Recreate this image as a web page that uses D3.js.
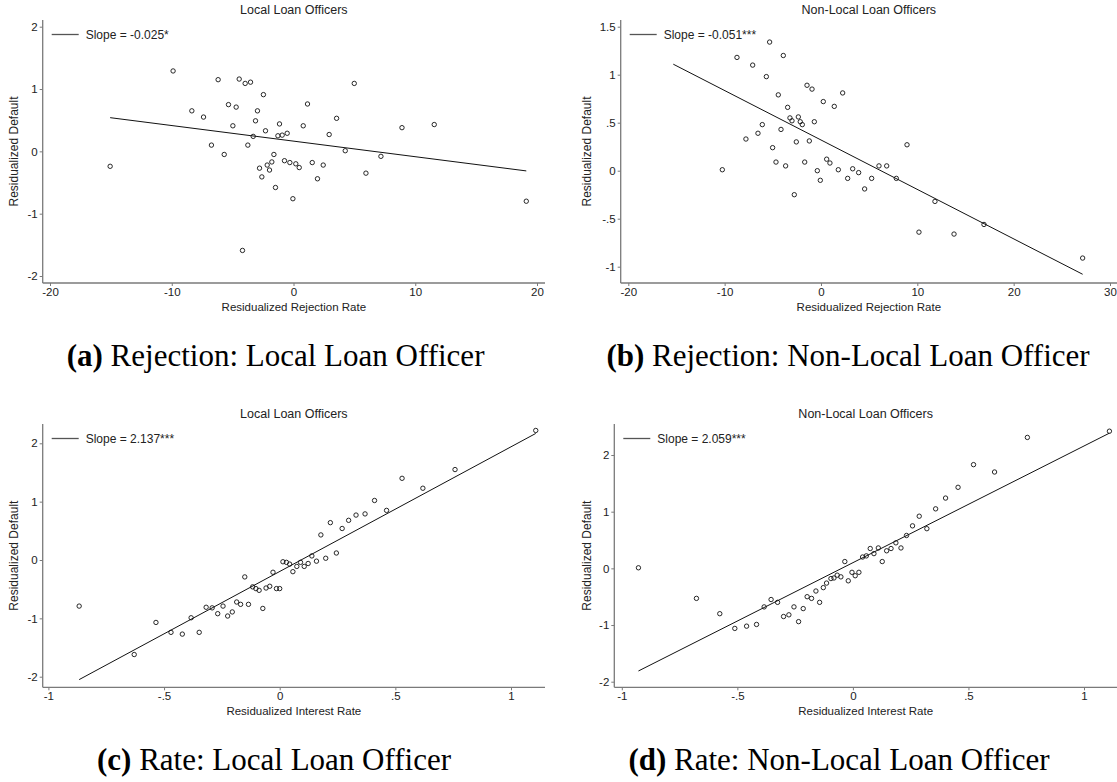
<!DOCTYPE html>
<html>
<head>
<meta charset="utf-8">
<script src="https://cdn.jsdelivr.net/npm/d3@7"></script>
<style>
  body { margin: 0; background: #fff; }
</style>
</head>
<body>
<div id="chart"></div>
<script>
// binned scatter values
const rejLocalX = [-15.06,-9.89,-8.35,-7.39,-6.74,-6.19,-5.69,-5.34,-4.98,-4.71,-4.46,-3.97,-3.53,-4.19,-3.75,-3.31,-3.12,-2.96,-2.47,-2.30,-2.79,-2.60,-2.16,-1.97,-1.78,-1.61,-1.48,-1.28,-1.15,-0.93,-0.52,-0.74,-0.30,0.19,0.47,-0.05,0.80,1.15,1.54,1.97,2.44,2.93,3.54,4.25,4.99,5.95,7.18,8.91,11.56,19.12];
const rejLocalY = [-0.24,1.29,0.65,0.55,0.10,1.15,-0.05,0.75,0.41,0.71,1.16,1.09,1.11,-1.59,0.10,0.24,0.49,0.65,0.91,0.33,-0.27,-0.41,-0.22,-0.30,-0.17,-0.05,-0.58,0.25,0.44,0.26,0.29,-0.15,-0.18,-0.20,-0.26,-0.76,0.41,0.76,-0.18,-0.44,-0.22,0.27,0.53,0.01,1.09,-0.35,-0.08,0.38,0.43,-0.80];

const rejNonLocalX = [-10.24,-8.72,-7.79,-7.09,-6.54,-6.09,-5.67,-5.33,-5.02,-4.67,-4.43,-4.15,-3.91,-3.67,-3.46,-3.22,-3.01,-2.77,-2.56,-2.35,-2.15,-1.94,-1.69,-1.45,-1.21,-0.93,-0.69,-0.38,-0.07,0.24,0.59,0.93,1.38,1.80,2.25,2.77,3.29,3.91,4.53,5.26,6.02,6.82,7.82,8.93,10.17,11.83,13.81,16.92,27.16];
const rejNonLocalY = [0.01,1.18,0.33,1.10,0.39,0.48,0.98,1.34,0.24,0.09,0.79,0.43,1.20,0.05,0.66,0.55,0.52,-0.25,0.30,0.56,0.51,0.48,0.09,0.89,0.31,0.85,0.51,0.00,-0.10,0.72,0.12,0.08,0.67,0.01,0.81,-0.08,0.02,-0.02,-0.19,-0.08,0.05,0.05,-0.08,0.27,-0.64,-0.32,-0.66,-0.56,-0.91];

const rateLocalX = [-0.867,-0.629,-0.535,-0.470,-0.421,-0.383,-0.348,-0.318,-0.292,-0.268,-0.245,-0.225,-0.205,-0.186,-0.169,-0.151,-0.135,-0.117,-0.103,-0.089,-0.073,-0.059,-0.043,-0.029,-0.014,0.000,0.014,0.029,0.043,0.057,0.074,0.090,0.106,0.123,0.139,0.159,0.178,0.199,0.219,0.245,0.270,0.298,0.330,0.369,0.410,0.462,0.529,0.619,0.758,1.107];
const rateLocalY = [-0.79,-1.62,-1.07,-1.24,-1.27,-0.99,-1.24,-0.81,-0.82,-0.92,-0.79,-0.96,-0.89,-0.72,-0.76,-0.29,-0.76,-0.46,-0.49,-0.52,-0.83,-0.48,-0.45,-0.21,-0.49,-0.49,-0.03,-0.04,-0.07,-0.20,-0.11,-0.04,-0.11,-0.06,0.07,-0.02,0.43,0.03,0.64,0.12,0.54,0.68,0.77,0.79,1.02,0.85,1.40,1.23,1.55,2.22];

const rateNonLocalX = [-0.928,-0.677,-0.576,-0.511,-0.460,-0.417,-0.384,-0.354,-0.326,-0.300,-0.277,-0.255,-0.235,-0.215,-0.198,-0.179,-0.160,-0.144,-0.128,-0.114,-0.095,-0.082,-0.068,-0.052,-0.035,-0.020,-0.004,0.010,0.026,0.042,0.058,0.075,0.091,0.110,0.127,0.146,0.165,0.186,0.208,0.232,0.258,0.287,0.320,0.358,0.401,0.455,0.522,0.613,0.755,1.110];
const rateNonLocalY = [0.01,-0.53,-0.80,-1.06,-1.02,-0.99,-0.68,-0.55,-0.60,-0.85,-0.82,-0.68,-0.94,-0.71,-0.50,-0.53,-0.40,-0.60,-0.34,-0.26,-0.18,-0.17,-0.12,-0.15,0.12,-0.22,-0.07,-0.13,-0.07,0.20,0.22,0.35,0.26,0.36,0.12,0.31,0.35,0.45,0.36,0.58,0.75,0.92,0.70,1.05,1.24,1.43,1.83,1.70,2.31,2.42];

// fitted lines
const fitSlope = [-0.025, -0.0515, 2.137, 2.059];
const fitIntercept = [0.164, 0.32, -0.197, 0.10];
const fitRange = [[-15.06, 19.12], [-15.33, 27.16], [-0.867, 1.107], [-0.928, 1.110]];
const slopeLabels = ["Slope = -0.025*", "Slope = -0.051***", "Slope = 2.137***", "Slope = 2.059***"];

const panelTitles = ["Local Loan Officers", "Non-Local Loan Officers", "Local Loan Officers", "Non-Local Loan Officers"];
const xTitles = ["Residualized Rejection Rate", "Residualized Rejection Rate", "Residualized Interest Rate", "Residualized Interest Rate"];
const yTitle = "Residualized Default";
const captionTags = ["(a)", "(b)", "(c)", "(d)"];
const captionTexts = [" Rejection: Local Loan Officer", " Rejection: Non-Local Loan Officer", " Rate: Local Loan Officer", " Rate: Non-Local Loan Officer"];

const xTickVals = [[-20,-10,0,10,20], [-20,-10,0,10,20,30], [-1,-0.5,0,0.5,1], [-1,-0.5,0,0.5,1]];
const yTickVals = [[-2,-1,0,1,2], [-1,-0.5,0,0.5,1,1.5], [-2,-1,0,1,2], [-2,-1,0,1,2]];

// layout of the 2x2 grid (pixels)
const layout = [
  {left: 42.7, right: 545, top: 20, bottom: 283, xr: [50, 537], yr: [276, 26.7], yLab: 14, cap: [275.6, 366]},
  {left: 620.7, right: 1117, top: 20, bottom: 283, xr: [628.3, 1110], yr: [266.7, 26.7], yLab: 587, cap: [848, 366]},
  {left: 42.7, right: 545, top: 424, bottom: 687.3, xr: [48.4, 511], yr: [676.7, 443.3], yLab: 14, cap: [274, 770]},
  {left: 614.3, right: 1117, top: 424, bottom: 687.3, xr: [621.8, 1084], yr: [681.7, 455], yLab: 587, cap: [839, 770]}
];
const xs = [rejLocalX, rejNonLocalX, rateLocalX, rateNonLocalX];
const ys = [rejLocalY, rejNonLocalY, rateLocalY, rateNonLocalY];

const width = 1117, height = 782;
const sans = "'Liberation Sans', Arial, Helvetica, sans-serif";
const axisColor = "#7a7a7a";
const textColor = "#222";

const fmt = d => String(d).replace("0.", ".");

const svg = d3.select("#chart").append("svg")
    .attr("width", width)
    .attr("height", height)
    .style("background", "#fff");

layout.forEach((L, i) => {
  const xd = xTickVals[i], yd = yTickVals[i];
  const x = d3.scaleLinear().domain([xd[0], xd[xd.length - 1]]).range(L.xr);
  const y = d3.scaleLinear().domain([yd[0], yd[yd.length - 1]]).range(L.yr);
  const g = svg.append("g");

  // axes
  const gx = g.append("g")
      .attr("transform", `translate(0,${L.bottom})`)
      .call(d3.axisBottom(x).tickValues(xd).tickFormat(fmt).tickSize(3).tickPadding(2));
  const gy = g.append("g")
      .attr("transform", `translate(${L.left},0)`)
      .call(d3.axisLeft(y).tickValues(yd).tickFormat(fmt).tickSize(3).tickPadding(2));
  [gx, gy].forEach(a => {
    a.select(".domain").remove();
    a.selectAll("line").attr("stroke", axisColor);
    a.selectAll("text").attr("fill", textColor).style("font-family", sans).style("font-size", "11.5px");
  });
  g.append("line")
      .attr("x1", L.left).attr("x2", L.right)
      .attr("y1", L.bottom).attr("y2", L.bottom)
      .attr("stroke", axisColor).attr("stroke-width", 1.3);
  g.append("line")
      .attr("x1", L.left).attr("x2", L.left)
      .attr("y1", L.top).attr("y2", L.bottom)
      .attr("stroke", axisColor).attr("stroke-width", 1.3);

  // fit line
  const fr = fitRange[i];
  g.append("line")
      .attr("x1", x(fr[0])).attr("y1", y(fitIntercept[i] + fitSlope[i] * fr[0]))
      .attr("x2", x(fr[1])).attr("y2", y(fitIntercept[i] + fitSlope[i] * fr[1]))
      .attr("stroke", "#111").attr("stroke-width", 1);

  // points
  g.append("g")
    .selectAll("circle")
    .data(d3.range(xs[i].length))
    .join("circle")
    .attr("cx", k => x(xs[i][k]))
    .attr("cy", k => y(ys[i][k]))
    .attr("r", 2.2)
    .attr("fill", "none")
    .attr("stroke", "#111")
    .attr("stroke-width", 0.9);

  // title
  g.append("text")
      .attr("x", (L.left + L.right) / 2)
      .attr("y", L.top - 6)
      .attr("text-anchor", "middle")
      .attr("fill", textColor)
      .style("font-family", sans)
      .style("font-size", "12.5px")
      .text(panelTitles[i]);

  // legend
  const ly = L.top + 14.5;
  g.append("line")
      .attr("x1", L.left + 9).attr("x2", L.left + 36)
      .attr("y1", ly).attr("y2", ly)
      .attr("stroke", "#555").attr("stroke-width", 1.3);
  g.append("text")
      .attr("x", L.left + 43)
      .attr("y", ly + 4)
      .attr("fill", textColor)
      .style("font-family", sans)
      .style("font-size", "12px")
      .text(slopeLabels[i]);

  // axis titles
  g.append("text")
      .attr("x", (L.left + L.right) / 2)
      .attr("y", L.bottom + 28)
      .attr("text-anchor", "middle")
      .attr("fill", textColor)
      .style("font-family", sans)
      .style("font-size", "11.5px")
      .text(xTitles[i]);
  g.append("text")
      .attr("transform", `translate(${L.yLab},${(L.top + L.bottom) / 2}) rotate(-90)`)
      .attr("text-anchor", "middle")
      .attr("dominant-baseline", "central")
      .attr("fill", textColor)
      .style("font-family", sans)
      .style("font-size", "12px")
      .text(yTitle);

  // caption under each panel
  const cap = g.append("text")
      .attr("x", L.cap[0])
      .attr("y", L.cap[1])
      .attr("text-anchor", "middle")
      .attr("fill", "#000")
      .style("font-family", "'Liberation Serif', 'Times New Roman', serif")
      .style("font-size", "31px");
  cap.append("tspan").style("font-weight", "bold").text(captionTags[i]);
  cap.append("tspan").attr("xml:space", "preserve").text(captionTexts[i]);
});
</script>
</body>
</html>
